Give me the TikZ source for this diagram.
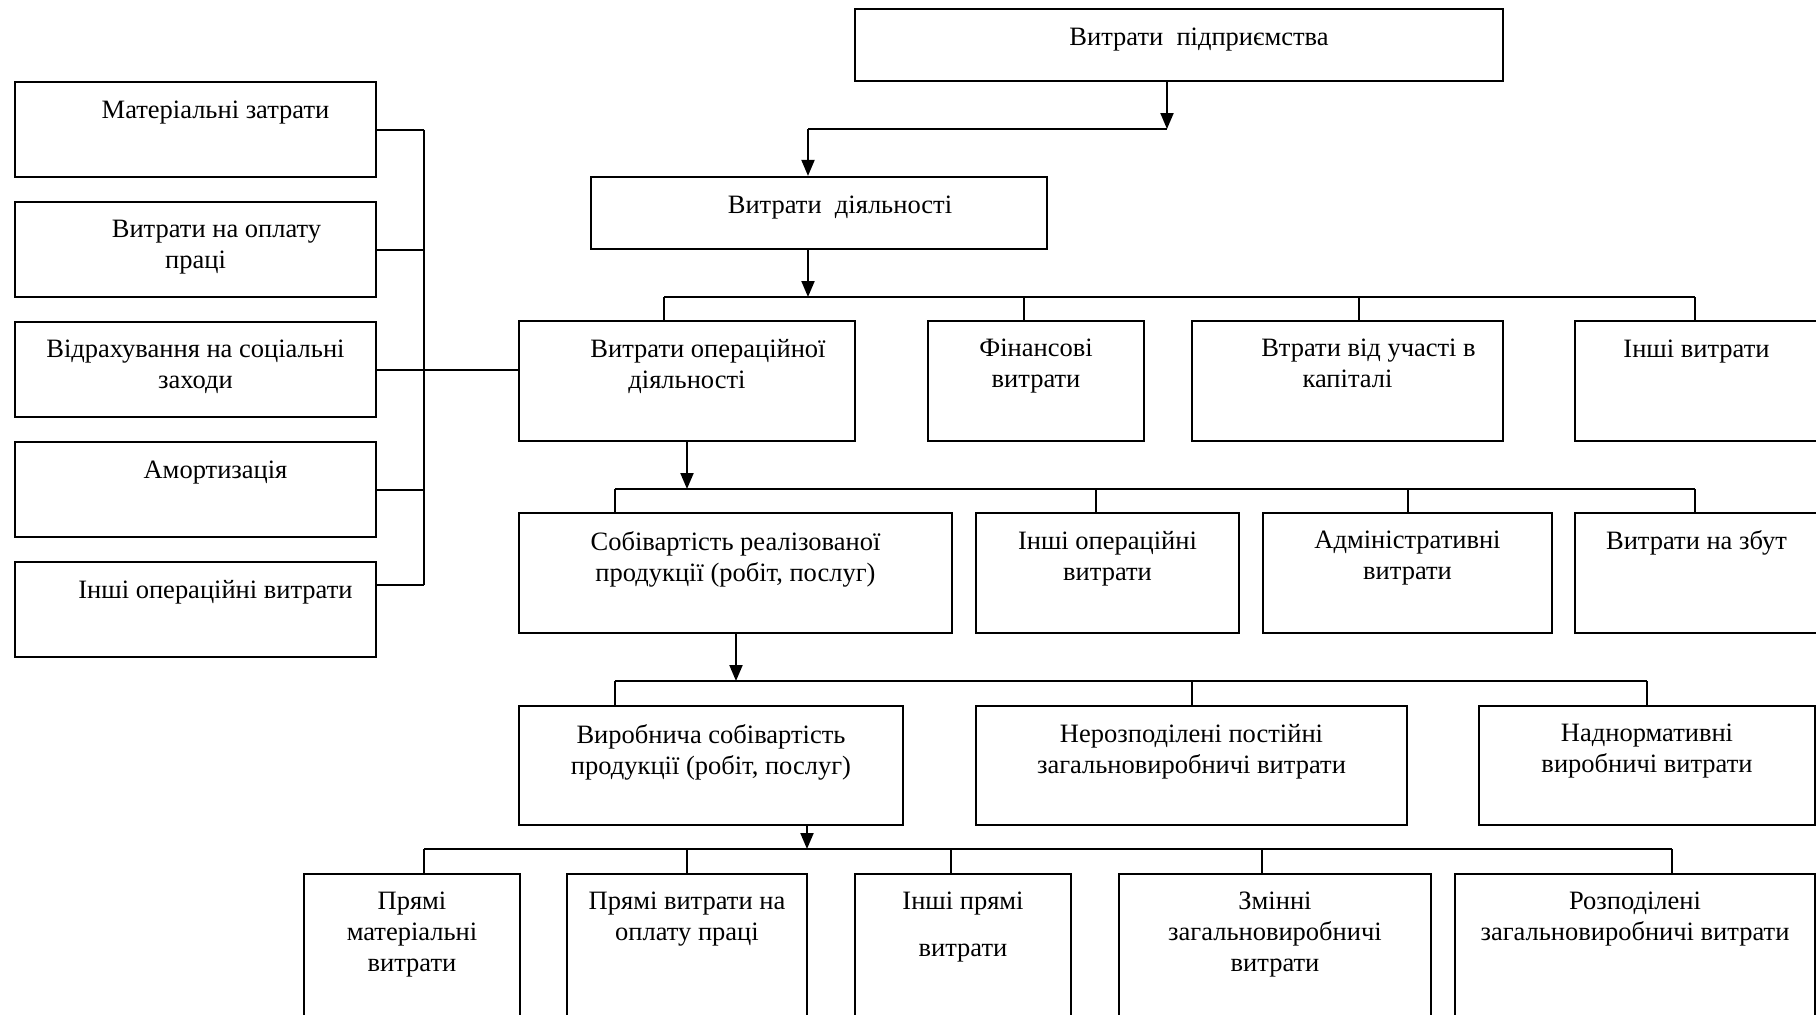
\documentclass[tikz,border=0pt]{standalone}
\usepackage{fontspec}
\setmainfont{Liberation Serif}
\usetikzlibrary{arrows.meta, positioning, calc}

\tikzset{
  blk/.style={draw, line width=2.2pt, inner sep=0pt},
  lab/.style={anchor=north, yshift=-12pt, align=center, inner sep=0pt,
    font=\fontsize{26.5}{31}\selectfont, execute at begin node=\rule{0pt}{25pt}},
  mlab/.style={lab, yshift=-7pt},
  line/.style={line width=2pt},
  arr/.style={line width=2pt, -{Triangle[length=16pt, width=13pt]}}
}

\begin{document}
\begin{tikzpicture}[x=1pt, y=-1pt]
    % Define dimensions
    \def\rowh{120pt}
    \def\lefth{95pt}
    \def\leftw{361pt}

    \useasboundingbox (0,0) rectangle (1816,1015);
    \clip (0,0) rectangle (1816,1015);

    % Top boxes
    \node[blk, minimum width=648pt, minimum height=72pt,
      label={[lab, xshift=20pt]north:Витрати\ \ підприємства}] (vp) at (1179,45) {};
    \node[blk, minimum width=456pt, minimum height=72pt,
      label={[lab, xshift=21pt]north:Витрати\ \ діяльності}] (vd) at (819,213) {};

    % Second row
    \node[blk, minimum width=336pt, minimum height=\rowh,
      label={[mlab]north:{\hspace*{42pt}Витрати операційної\\діяльності}}] (oper) at (687,381) {};
    \node[blk, minimum width=216pt, minimum height=\rowh,
      label={[mlab]north:{Фінансові\\витрати}}] (fin) at (1036,381) {};
    \node[blk, minimum width=311pt, minimum height=\rowh,
      label={[mlab]north:{\hspace*{42pt}Втрати від участі в\\капіталі}}] (vtr) at (1347.5,381) {};
    \node[blk, minimum width=243pt, minimum height=\rowh,
      label={[lab]north:Інші витрати}] (inshi) at (1696.5,381) {};

    % Elements of operating costs
    \node[blk, minimum width=\leftw, minimum height=\lefth,
      label={[lab, xshift=20pt]north:Матеріальні затрати}] (mat) at (195.5,129.5) {};
    \node[blk, minimum width=\leftw, minimum height=\lefth,
      label={[mlab]north:{\hspace*{42pt}Витрати на оплату\\праці}}] (opl) at (195.5,249.5) {};
    \node[blk, minimum width=\leftw, minimum height=\lefth,
      label={[mlab]north:{Відрахування на соціальні\\заходи}}] (vidr) at (195.5,369.5) {};
    \node[blk, minimum width=\leftw, minimum height=\lefth,
      label={[lab, xshift=20pt]north:Амортизація}] (amort) at (195.5,489.5) {};
    \node[blk, minimum width=\leftw, minimum height=\lefth,
      label={[lab, xshift=20pt]north:Інші операційні витрати}] (inshop) at (195.5,609.5) {};

    % Third row
    \node[blk, minimum width=433pt, minimum height=\rowh,
      label={[mlab]north:{Собівартість реалізованої\\продукції (робіт, послуг)}}] (sob) at (735.5,573) {};
    \node[blk, minimum width=263pt, minimum height=\rowh,
      label={[mlab]north:{Інші операційні\\витрати}}] (inop) at (1107.5,573) {};
    \node[blk, minimum width=289pt, minimum height=\rowh,
      label={[mlab]north:{Адміністративні\\витрати}}] (adm) at (1407.5,573) {};
    \node[blk, minimum width=243pt, minimum height=\rowh,
      label={[lab]north:Витрати на збут}] (zbut) at (1696.5,573) {};

    % Fourth row
    \node[blk, minimum width=384pt, minimum height=119pt,
      label={[mlab]north:{Виробнича собівартість\\продукції (робіт, послуг)}}] (vyr) at (711,765.5) {};
    \node[blk, minimum width=431pt, minimum height=119pt,
      label={[mlab]north:{Нерозподілені постійні\\загальновиробничі витрати}}] (nerozp) at (1191.5,765.5) {};
    \node[blk, minimum width=336pt, minimum height=119pt,
      label={[mlab]north:{Наднормативні\\виробничі витрати}}] (nadn) at (1647,765.5) {};

    % Fifth row (runs past the bottom edge)
    \node[blk, minimum width=216pt, minimum height=200pt,
      label={[mlab]north:{Прямі\\матеріальні\\витрати}}] (pm) at (412,974) {};
    \node[blk, minimum width=240pt, minimum height=200pt,
      label={[mlab]north:{Прямі витрати на\\оплату праці}}] (pv) at (687,974) {};
    \node[blk, minimum width=216pt, minimum height=200pt,
      label={[mlab]north:{Інші прямі\\[16pt]витрати}}] (ip) at (963,974) {};
    \node[blk, minimum width=312pt, minimum height=200pt,
      label={[mlab]north:{Змінні\\загальновиробничі\\витрати}}] (zm) at (1275,974) {};
    \node[blk, minimum width=360pt, minimum height=200pt,
      label={[mlab]north:{Розподілені\\загальновиробничі витрати}}] (rozp) at (1635,974) {};

    % Top arrows
    \coordinate (j1) at (1167,129);
    \coordinate (j2) at (808,129);
    \draw[arr] (vp.south -| j1) -- (j1);
    \draw[line] (j1) -- (j2);
    \draw[arr] (j2) -- (j2 |- vd.north);

    % Bus to the second row
    \coordinate (b1) at (808,297);
    \draw[arr] (vd.south -| b1) -- (b1);
    \draw[line] ([xshift=-23pt]oper.north |- b1) -- ([xshift=-1.5pt]inshi.north |- b1);
    \foreach \n/\s in {oper/-23, fin/-12, vtr/11.5, inshi/-1.5}
        \draw[line] ([xshift=\s pt]\n.north) -- ([xshift=\s pt]\n.north |- b1);

    % Elements joined to operating costs
    \coordinate (lv) at (424,369);
    \foreach \n in {mat, opl, vidr, amort}
        \draw[line] (\n.east) -- (\n.east -| lv);
    \draw[line] ([yshift=24.5pt]inshop.east) -- ([yshift=24.5pt]inshop.east -| lv);
    \draw[line] (mat.east -| lv) -- ([yshift=24.5pt]inshop.east -| lv);
    \draw[line] (vidr.east -| lv) -- (vidr.east -| oper.west);

    % Bus to the third row
    \coordinate (b2) at (687,489);
    \draw[arr] (oper.south -| b2) -- (b2);
    \draw[line] ([xshift=-120.5pt]sob.north |- b2) -- ([xshift=-1.5pt]zbut.north |- b2);
    \foreach \n/\s in {sob/-120.5, inop/-11.5, adm/0, zbut/-1.5}
        \draw[line] ([xshift=\s pt]\n.north) -- ([xshift=\s pt]\n.north |- b2);

    % Bus to the fourth row
    \coordinate (b3) at (736,681);
    \draw[arr] (sob.south -| b3) -- (b3);
    \draw[line] ([xshift=-96pt]vyr.north |- b3) -- (nadn.north |- b3);
    \foreach \n/\s in {vyr/-96, nerozp/0, nadn/0}
        \draw[line] ([xshift=\s pt]\n.north) -- ([xshift=\s pt]\n.north |- b3);

    % Bus to the fifth row
    \coordinate (b4) at (807,849);
    \draw[arr] (vyr.south -| b4) -- (b4);
    \draw[line] ([xshift=12pt]pm.north |- b4) -- ([xshift=37pt]rozp.north |- b4);
    \foreach \n/\s in {pm/12, pv/0, ip/-12, zm/-13, rozp/37}
        \draw[line] ([xshift=\s pt]\n.north) -- ([xshift=\s pt]\n.north |- b4);
\end{tikzpicture}
\end{document}
